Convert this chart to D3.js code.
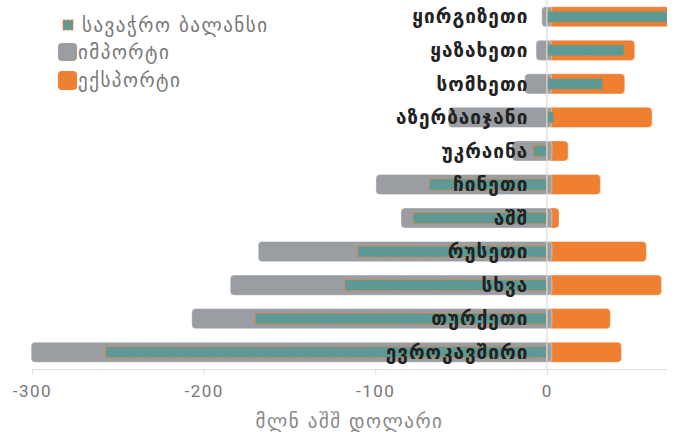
<!DOCTYPE html>
<html>
<head>
<meta charset="utf-8">
<script src="https://cdn.jsdelivr.net/npm/d3@7"></script>
<style>
  html, body { margin: 0; padding: 0; background: #fff; }
  svg { display: block; }
</style>
</head>
<body>
<svg id="chart" width="679" height="432"></svg>
<script>
// Trade partners, top to bottom
const partners = ["ყირგიზეთი", "ყაზახეთი", "სომხეთი", "აზერბაიჯანი", "უკრაინა", "ჩინეთი", "აშშ", "რუსეთი", "სხვა", "თურქეთი", "ევროკავშირი"];
// Imports (negative), exports and trade balance, million USD
const imports = [-3, -6.3, -12.9, -57.3, -20.3, -99.6, -85, -168.2, -184.5, -206.9, -300.5];
const exports = [74, 51.2, 45.4, 61.3, 12.4, 31.2, 7.1, 58, 66.8, 37, 43.5];
const balance = [71, 44.9, 32.5, 4, -7.9, -68.4, -77.9, -110.2, -117.7, -169.9, -257];
const xTicks = [-300, -200, -100, 0];
const legendLabels = ["სავაჭრო ბალანსი", "იმპორტი", "ექსპორტი"];
const axisTitle = "მლნ აშშ დოლარი";

const colImport = "#9a9ea2";
const colExport = "#ef7f31";
const colBalance = "#5d9a95";

const svg = d3.select("#chart");
const mLeft = 32, mRight = 667, mTop = 0, mBottom = 369;

const x = d3.scaleLinear().domain([-300, 70]).range([mLeft, mRight]);
const y = d3.scaleBand().domain(partners).range([mTop, mBottom]).paddingInner(0.4).paddingOuter(0.2);

svg.append("defs").append("clipPath").attr("id", "plot-clip")
  .append("rect").attr("x", mLeft - 2).attr("y", 0).attr("width", mRight - mLeft + 2).attr("height", mBottom);

const rows = partners.map((p, i) => ({ p, imp: imports[i], exp: exports[i], bal: balance[i] }));
const plot = svg.append("g").attr("clip-path", "url(#plot-clip)");

// export bars
plot.selectAll("rect.exp").data(rows).join("rect")
  .attr("class", "exp")
  .attr("x", x(0))
  .attr("y", d => y(d.p))
  .attr("width", d => x(d.exp) - x(0))
  .attr("height", y.bandwidth())
  .attr("rx", 4)
  .attr("fill", colExport)
  .attr("stroke", "#fff").attr("stroke-opacity", 0.5).attr("stroke-width", 0.8);

// import bars, overlapping the zero line slightly
plot.selectAll("rect.imp").data(rows).join("rect")
  .attr("class", "imp")
  .attr("x", d => x(d.imp))
  .attr("y", d => y(d.p))
  .attr("width", d => x(0) - x(d.imp) + 5)
  .attr("height", y.bandwidth())
  .attr("rx", 4)
  .attr("fill", colImport)
  .attr("stroke", "#fff").attr("stroke-opacity", 0.5).attr("stroke-width", 0.8);

// trade balance bars
const bh = 11;
plot.selectAll("rect.bal").data(rows).join("rect")
  .attr("class", "bal")
  .attr("x", d => x(Math.min(0, d.bal)))
  .attr("y", d => y(d.p) + (y.bandwidth() - bh) / 2)
  .attr("width", d => Math.abs(x(d.bal) - x(0)))
  .attr("height", bh)
  .attr("fill", colBalance)
  .attr("stroke", colExport)
  .attr("stroke-width", 1)
  .attr("stroke-dasharray", "3,2");

// zero line
svg.append("line")
  .attr("x1", x(0)).attr("x2", x(0))
  .attr("y1", 0).attr("y2", mBottom)
  .attr("stroke", "#dcdcdc").attr("stroke-width", 1.2);

// category labels
svg.selectAll("text.cat").data(rows).join("text")
  .attr("class", "cat")
  .attr("x", x(0) - 18.5)
  .attr("y", d => y(d.p) + y.bandwidth() / 2)
  .attr("dy", "0.35em")
  .attr("text-anchor", "end")
  .attr("font-family", "DejaVu Sans, sans-serif")
  .attr("font-weight", "bold")
  .attr("font-size", 19)
  .attr("letter-spacing", 1)
  .attr("fill", "#222")
  .text(d => d.p);

// x axis
const axis = svg.append("g")
  .attr("transform", `translate(0,${mBottom})`)
  .call(d3.axisBottom(x).tickValues(xTicks).tickSize(6).tickPadding(10).tickFormat(d3.format("d")));
axis.select(".domain").attr("stroke", "#ddd").attr("d", `M${mLeft},0.5H${mRight}`);
axis.selectAll(".tick line").attr("stroke", "#ddd");
axis.selectAll(".tick text")
  .attr("font-family", "Roboto, sans-serif")
  .attr("font-size", 17)
  .attr("letter-spacing", 1.5)
  .attr("fill", "#777")
  .text(d => d < 0 ? "-" + Math.abs(d) : d);

svg.append("text")
  .attr("x", (mLeft + mRight) / 2)
  .attr("y", 428)
  .attr("text-anchor", "middle")
  .attr("font-family", "DejaVu Sans, sans-serif")
  .attr("font-size", 19)
  .attr("letter-spacing", 1.5)
  .attr("fill", "#888")
  .text(axisTitle);

// legend
const lg = svg.append("g");
lg.append("rect").attr("x", 63).attr("y", 20).attr("width", 10).attr("height", 10)
  .attr("fill", colBalance).attr("stroke", colExport).attr("stroke-width", 1.2).attr("stroke-dasharray", "2.5,1.5");
lg.append("rect").attr("x", 58).attr("y", 43).attr("width", 19).attr("height", 18).attr("rx", 4).attr("fill", colImport);
lg.append("rect").attr("x", 58).attr("y", 71).attr("width", 19).attr("height", 19).attr("rx", 4).attr("fill", colExport);
const legendPos = [[82, 25], [78, 52], [78, 80]];
lg.selectAll("text").data(legendLabels).join("text")
  .attr("x", (d, i) => legendPos[i][0])
  .attr("y", (d, i) => legendPos[i][1])
  .attr("dy", "0.35em")
  .attr("font-family", "DejaVu Sans, sans-serif")
  .attr("font-size", 19)
  .attr("letter-spacing", 1.5)
  .attr("fill", "#777")
  .text(d => d);
</script>
</body>
</html>
